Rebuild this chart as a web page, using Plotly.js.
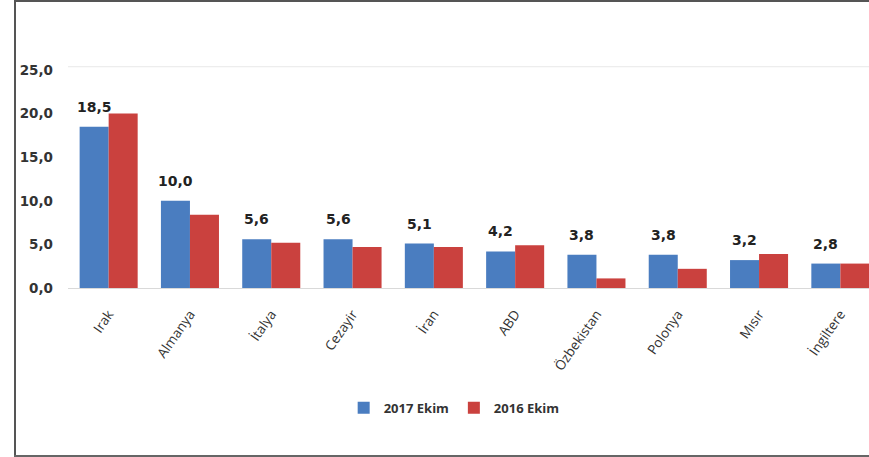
<!DOCTYPE html>
<html>
<head>
<meta charset="utf-8">
<script src="https://cdn.plot.ly/plotly-3.0.1.min.js"></script>
<style>
html,body{margin:0;padding:0;background:#fff;overflow:hidden;width:869px;height:457px;position:relative;}
.ln{position:absolute;background:#555;pointer-events:none;z-index:5;}
#chart{position:absolute;left:0;top:0;width:900px;height:457px;}
</style>
</head>
<body>
<div id="chart"></div>
<div class="ln" style="left:14px;top:0;width:2px;height:457px;"></div>
<div class="ln" style="left:14px;top:0;width:855px;height:2px;"></div>
<div class="ln" style="left:14px;top:455px;width:855px;height:2px;background:#666;"></div>
<script>
var categories = ["Irak", "Almanya", "İtalya", "Cezayir", "İran", "ABD", "Özbekistan", "Polonya", "Mısır", "İngiltere"];
var values2017 = [18.5, 10.0, 5.6, 5.6, 5.1, 4.2, 3.8, 3.8, 3.2, 2.8];
var values2016 = [20.0, 8.4, 5.2, 4.7, 4.7, 4.9, 1.1, 2.2, 3.9, 2.8];
var seriesNames = ["2017 Ekim", "2016 Ekim"];
var yTicks = [0, 5, 10, 15, 20, 25];

var fontFam = "'Open Sans', 'DejaVu Sans', sans-serif";

var traces = [
  {type: 'bar', name: seriesNames[0], x: categories, y: values2017,
   marker: {color: '#4A7DC0'}, hoverinfo: 'skip'},
  {type: 'bar', name: seriesNames[1], x: categories, y: values2016,
   marker: {color: '#CA413E'}, hoverinfo: 'skip'}
];

var annotations = categories.map(function(c, i){
  return {x: c, y: values2017[i], xref: 'x', yref: 'y',
    text: values2017[i].toFixed(1).replace('.', ','),
    showarrow: false, xshift: -14.5, yshift: 20, yanchor: 'middle',
    font: {family: "'DejaVu Sans', sans-serif", size: 14, color: '#222', weight: 'bold'}};
});

var layout = {
  width: 900, height: 457,
  margin: {l: 68, r: 19, t: 70, b: 169},
  paper_bgcolor: '#fff', plot_bgcolor: '#fff',
  separators: ',.',
  barmode: 'group', bargap: 0.286, bargroupgap: 0,
  showlegend: true,
  legend: {orientation: 'h', x: 0.475, xanchor: 'center', y: -0.55, yanchor: 'middle',
    font: {family: fontFam, size: 13, color: '#333', weight: 'bold'}, traceorder: 'normal',
    itemwidth: 30},
  xaxis: {type: 'category', tickangle: -55, showgrid: false, zeroline: false,
    showline: true, linecolor: '#d9d9d9', linewidth: 1, ticks: '',
    ticklabelstandoff: 12,
    tickfont: {family: fontFam, size: 13.5, color: '#333'}},
  yaxis: {range: [0, 25], tickvals: yTicks, tickformat: '.1f', showgrid: false,
    zeroline: false, showline: false, ticks: '', ticklabelstandoff: 14,
    tickfont: {family: "'DejaVu Sans', sans-serif", size: 13.5, color: '#333', weight: 'bold'}},
  shapes: [{type: 'line', xref: 'paper', yref: 'paper', x0: 0, x1: 1, y0: 1.015, y1: 1.015,
    line: {color: '#e8e8e8', width: 1}}],
  annotations: annotations
};

Plotly.newPlot('chart', traces, layout, {displayModeBar: false, staticPlot: true});
</script>
</body>
</html>
